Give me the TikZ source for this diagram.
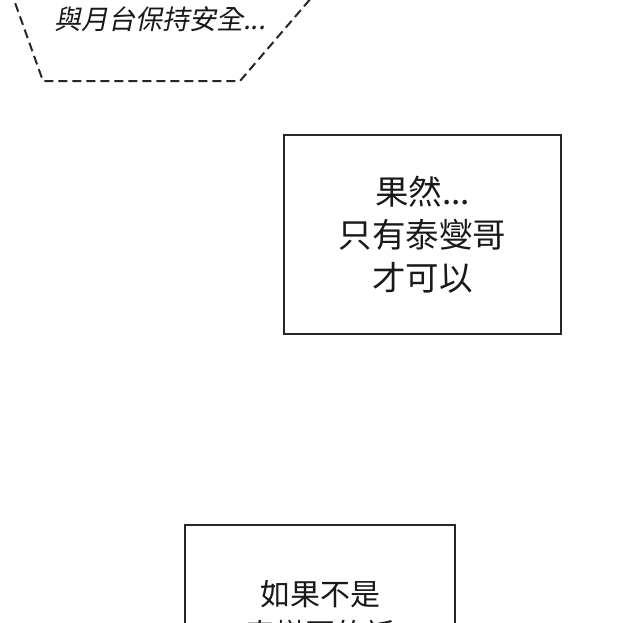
\documentclass[tikz,border=0pt]{standalone}
\usepackage{fontspec}
\newfontfamily\cjk{Noto Sans CJK TC}
\newfontfamily\cjkit[FakeSlant=0.2]{Noto Sans CJK TC}
\begin{document}
\begin{tikzpicture}[x=1pt,y=-1pt,
  panel/.style={draw=black!85,line width=1.7pt},
  dashpanel/.style={draw=black!85,line width=2pt,dash pattern=on 9pt off 5pt},
  talk/.style={align=center,inner sep=0pt,text=black!90}]
\useasboundingbox (0,0) rectangle (640,622);
\clip (0,0) rectangle (640,622);
\fill[white] (0,0) rectangle (640,622);
% top dashed balloon
\coordinate (tl) at (10.5,-10);
\coordinate (bl) at (43,81);
\coordinate (br) at (240,81);
\coordinate (tr) at (318,-10);
\draw[dashpanel] (tl) -- (bl) -- (br) -- (tr);
\node[talk,font=\cjkit\fontsize{27}{30}\selectfont] (t0) at (160,19) {與月台保持安全...};
% box 1
\node[panel,minimum width=277pt,minimum height=199pt,talk,
  font=\cjk\fontsize{33.5}{43}\selectfont] (b1) at (422.5,234.5) {果然...\\只有泰燮哥\\才可以};
% box 2
\coordinate (b2a) at (185,525);
\coordinate (b2b) at (455,700);
\draw[panel] (b2a) rectangle (b2b);
\node[talk,font=\cjk\fontsize{30}{40}\selectfont] (t2) at (320,614) {如果不是\\泰燮哥的話};
\end{tikzpicture}
\end{document}
